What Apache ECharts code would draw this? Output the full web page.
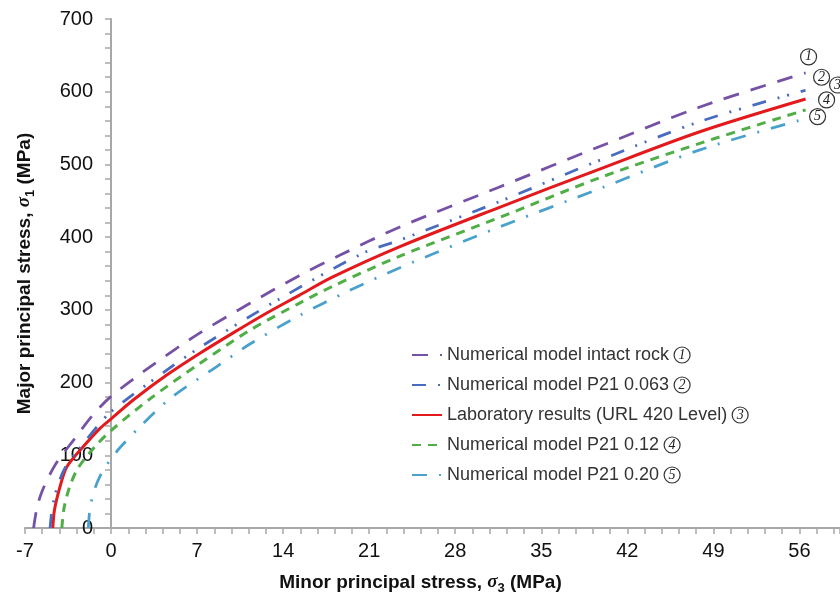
<!DOCTYPE html>
<html>
<head>
<meta charset="utf-8">
<script src="https://cdn.jsdelivr.net/npm/echarts@6/dist/echarts.min.js"></script>
<style>
html,body{margin:0;padding:0;background:#fff;}
#chart{width:840px;height:598px;}
</style>
</head>
<body>
<div id="chart"></div>
<script>
// ---- data ----
const seriesNames = [
  'Numerical model intact rock',
  'Numerical model P21 0.063',
  'Laboratory results (URL 420 Level)',
  'Numerical model P21 0.12',
  'Numerical model P21 0.20'
];
const circleTags = ['1', '2', '3', '4', '5'];

const sigma3_intact = [-6.3, -6.0, -5.5, -4.5, -3.0, -1.5, 0, 3.2, 7.2, 11.3, 15.3, 18.6, 23.5, 31.6, 39.8, 47.9, 56.5];
const sigma1_intact = [0, 30, 55, 88, 122, 155, 181, 222, 268, 309, 347, 375, 414, 469, 525, 579, 626];

const sigma3_p063 = [-4.96, -4.8, -4.4, -3.7, -2.3, -1.0, 0, 3.2, 7.2, 13.6, 20.5, 23.5, 31.6, 39.5, 47.9, 56.5];
const sigma1_p063 = [0, 25, 55, 84, 115, 142, 160, 201, 248, 314, 378, 396, 449, 504, 559, 602];

const sigma3_lab = [-4.74, -4.6, -4.15, -3.6, -2.25, -0.9, 0, 1.8, 4.5, 7.2, 9.9, 12.6, 15.3, 18.0, 23.5, 31.6, 39.8, 47.9, 56.5];
const sigma1_lab = [0, 25, 57, 84, 112, 137, 150, 176, 210, 240, 268, 295, 320, 345, 387, 441, 494, 545, 590];

const sigma3_p12 = [-4.0, -3.85, -3.4, -2.7, -1.3, 0, 3.2, 7.2, 11.3, 15.3, 18.1, 23.5, 31.6, 39.8, 47.9, 56.5];
const sigma1_p12 = [0, 25, 55, 82, 112, 134, 178, 226, 272, 309, 333, 374, 427, 482, 529, 575];

const sigma3_p20 = [-1.85, -1.7, -1.3, -0.7, 0, 0.7, 2.4, 4.8, 8.6, 11.3, 15.3, 19.2, 23.5, 31.6, 39.8, 47.9, 56.5];
const sigma1_p20 = [0, 28, 55, 78, 95, 110, 140, 178, 222, 253, 292, 325, 358, 414, 467, 520, 563];

const xTicks = [-7, 0, 7, 14, 21, 28, 35, 42, 49, 56];
const yTicks = [0, 100, 200, 300, 400, 500, 600, 700];

// ---- styles ----
const colors = ['#7652a6', '#4a6cc0', '#e3191c', '#4fae46', '#4aa2cc'];
const dashes = [[16, 12], [14, 12, 2, 8, 2, 12], null, [9, 7], [15, 12, 2, 12]];
const widths = [2.8, 2.8, 3, 3, 2.8];
const endOffsets = [[-13, -16], [0, -13], [16, -14], [5, -10], [-4, -2]];

const xs = [sigma3_intact, sigma3_p063, sigma3_lab, sigma3_p12, sigma3_p20];
const ys = [sigma1_intact, sigma1_p063, sigma1_lab, sigma1_p12, sigma1_p20];

const circleStyle = {
  fontSize: 14, fontStyle: 'italic', color: '#222', fontFamily: 'Liberation Serif',
  width: 16, height: 16, lineHeight: 16, align: 'center',
  borderColor: '#333', borderWidth: 1.2, borderRadius: 9
};

const series = seriesNames.map((name, i) => ({
  name: name,
  type: 'line',
  data: xs[i].map((x, k) => [x, ys[i][k]]),
  smooth: 0.3,
  symbol: 'none',
  z: 5 - i,
  lineStyle: { color: colors[i], width: widths[i], type: dashes[i] || 'solid' },
  itemStyle: { color: colors[i] },
  endLabel: {
    show: true,
    formatter: '{c|' + circleTags[i] + '}',
    offset: endOffsets[i],
    rich: { c: circleStyle }
  }
}));

const chart = echarts.init(document.getElementById('chart'), null, { renderer: 'canvas' });
const font = "'Liberation Sans', Arial, sans-serif";
const nameRich = {
  b: { fontSize: 19, fontWeight: 'bold', color: '#111', fontFamily: font },
  s: { fontSize: 19, fontWeight: 'bold', fontStyle: 'italic', color: '#111', fontFamily: 'Liberation Serif' },
  sub: { fontSize: 13, fontWeight: 'bold', color: '#111', fontFamily: font, padding: [12, 0, 0, 0] }
};
chart.setOption({
  animation: false,
  backgroundColor: '#fff',
  textStyle: { fontFamily: font },
  grid: { left: 25, right: 0, top: 19, bottom: 70, outerBoundsMode: 'none' },
  legend: {
    orient: 'vertical',
    left: 406, top: 341,
    itemWidth: 30, itemHeight: 14, itemGap: 12,
    data: seriesNames,
    itemStyle: { opacity: 0 },
    formatter: function (name) {
      const idx = seriesNames.indexOf(name);
      return '{t|' + name + '} {c|' + circleTags[idx] + '}';
    },
    textStyle: {
      fontSize: 18, color: '#333', fontFamily: font,
      rich: { t: { fontSize: 18, color: '#333', fontFamily: font }, c: circleStyle }
    }
  },
  xAxis: {
    type: 'value',
    min: -7, max: 59.3, interval: 7,
    axisLine: { onZero: true, lineStyle: { color: '#a8a8a8', width: 2 } },
    axisTick: { show: true, length: 6, lineStyle: { color: '#a8a8a8', width: 1.5 } },
    minorTick: { show: true, splitNumber: 5, length: 6, lineStyle: { color: '#a8a8a8', width: 1.5 } },
    splitLine: { show: false },
    axisLabel: {
      margin: 13, fontSize: 20, color: '#111', fontFamily: font,
      showMaxLabel: false,
      formatter: function (v) { return xTicks.indexOf(v) >= 0 ? String(v) : ''; }
    },
    name: '{b|Minor principal stress, }{s|σ}{sub|3}{b| (MPa)}',
    nameLocation: 'middle',
    nameGap: 42,
    nameTextStyle: { padding: [0, 24, 0, 0], rich: nameRich }
  },
  yAxis: {
    type: 'value',
    position: 'left',
    offset: -86,
    min: 0, max: 700, interval: 100,
    axisLine: { onZero: false, lineStyle: { color: '#a8a8a8', width: 2 } },
    axisTick: { show: true, length: 6, lineStyle: { color: '#a8a8a8', width: 1.5 } },
    minorTick: { show: true, splitNumber: 5, length: 6, lineStyle: { color: '#a8a8a8', width: 1.5 } },
    splitLine: { show: false },
    axisLabel: {
      margin: 18, fontSize: 20, color: '#111', fontFamily: font,
      formatter: function (v) { return yTicks.indexOf(v) >= 0 ? String(v) : ''; }
    },
    name: '{b|Major principal stress, }{s|σ}{sub|1}{b| (MPa)}',
    nameLocation: 'middle',
    nameGap: 74,
    nameTextStyle: { rich: nameRich }
  },
  series: series
});
</script>
</body>
</html>
